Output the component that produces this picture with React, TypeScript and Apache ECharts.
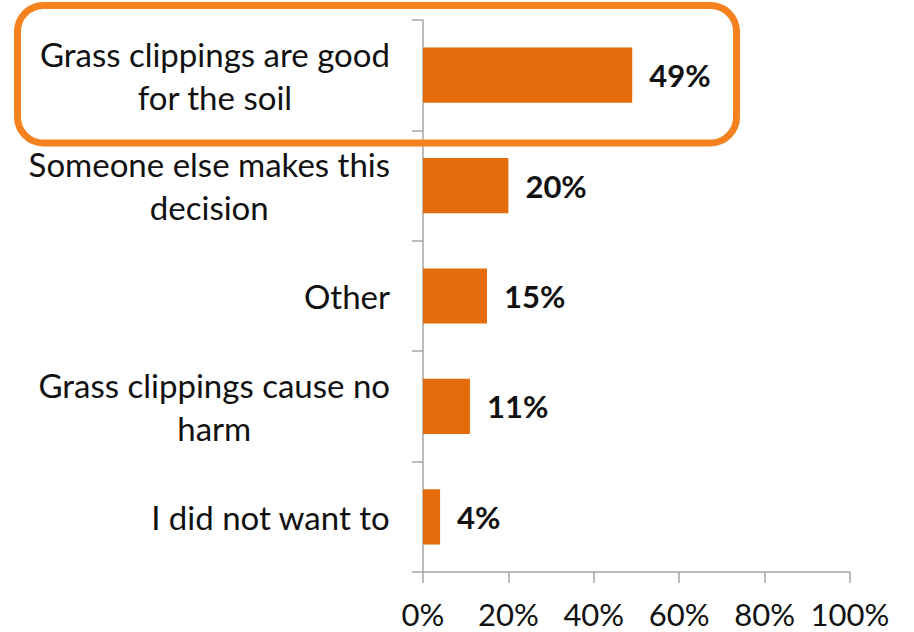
import React, { useEffect, useRef } from "react";
import * as echarts from "echarts";

const categories = [
  "Grass clippings are good\nfor the soil",
  "Someone else makes this\ndecision",
  "Other",
  "Grass clippings cause no\nharm",
  "I did not want to",
];
const values = [49, 20, 15, 11, 4];
const xTicks = [0, 20, 40, 60, 80, 100];

const FONT = "Lato, 'Noto Sans', sans-serif";

export default function App() {
  const ref = useRef<HTMLDivElement>(null);
  useEffect(() => {
    if (!ref.current) return;
    const chart = echarts.init(ref.current, undefined, { renderer: "svg" });
    chart.setOption({
      animation: false,
      backgroundColor: "#ffffff",
      grid: { left: 423, right: 64, top: 20, bottom: 60, containLabel: false },
      xAxis: {
        type: "value",
        min: xTicks[0],
        max: xTicks[xTicks.length - 1],
        interval: 20,
        splitLine: { show: false },
        axisLine: { show: true, lineStyle: { color: "#A6A6A6", width: 1.5 } },
        axisTick: { show: true, length: 11, lineStyle: { color: "#A6A6A6", width: 1.5 } },
        axisLabel: {
          formatter: (v: number) => `${v}%`,
          fontFamily: FONT,
          fontSize: 31,
          lineHeight: 31,
          color: "#111",
          margin: 26,
        },
      },
      yAxis: {
        type: "category",
        inverse: true,
        data: categories,
        axisLine: { show: true, lineStyle: { color: "#A6A6A6", width: 1.5 } },
        axisTick: { show: true, length: 11, alignWithLabel: false, lineStyle: { color: "#A6A6A6", width: 1.5 } },
        axisLabel: {
          margin: 33,
          formatter: (v: string) => v.split("\n").map((l) => `{c|${l}}`).join("\n"),
          rich: {
            c: {
              fontFamily: FONT,
              fontSize: 33,
              lineHeight: 43,
              color: "#111",
              align: "center",
            },
          },
        },
      },
      series: [
        {
          type: "bar",
          data: values,
          barCategoryGap: "50%",
          itemStyle: { color: "#E46C0A" },
          label: {
            show: true,
            position: "right",
            distance: 17,
            formatter: (p: any) => `${p.value}%`,
            fontFamily: FONT,
            fontWeight: "bold",
            fontSize: 31,
            color: "#111",
          },
        },
      ],
      graphic: [
        {
          type: "rect",
          z: 100,
          shape: { x: 17.5, y: 5.5, width: 719, height: 137.5, r: 26 },
          style: { fill: "none", stroke: "#F5821F", lineWidth: 7 },
        },
      ],
    });
    return () => chart.dispose();
  }, []);
  return (
    <div
      ref={ref}
      style={{ position: "absolute", left: 0, top: 0, width: 914, height: 632 }}
    />
  );
}
